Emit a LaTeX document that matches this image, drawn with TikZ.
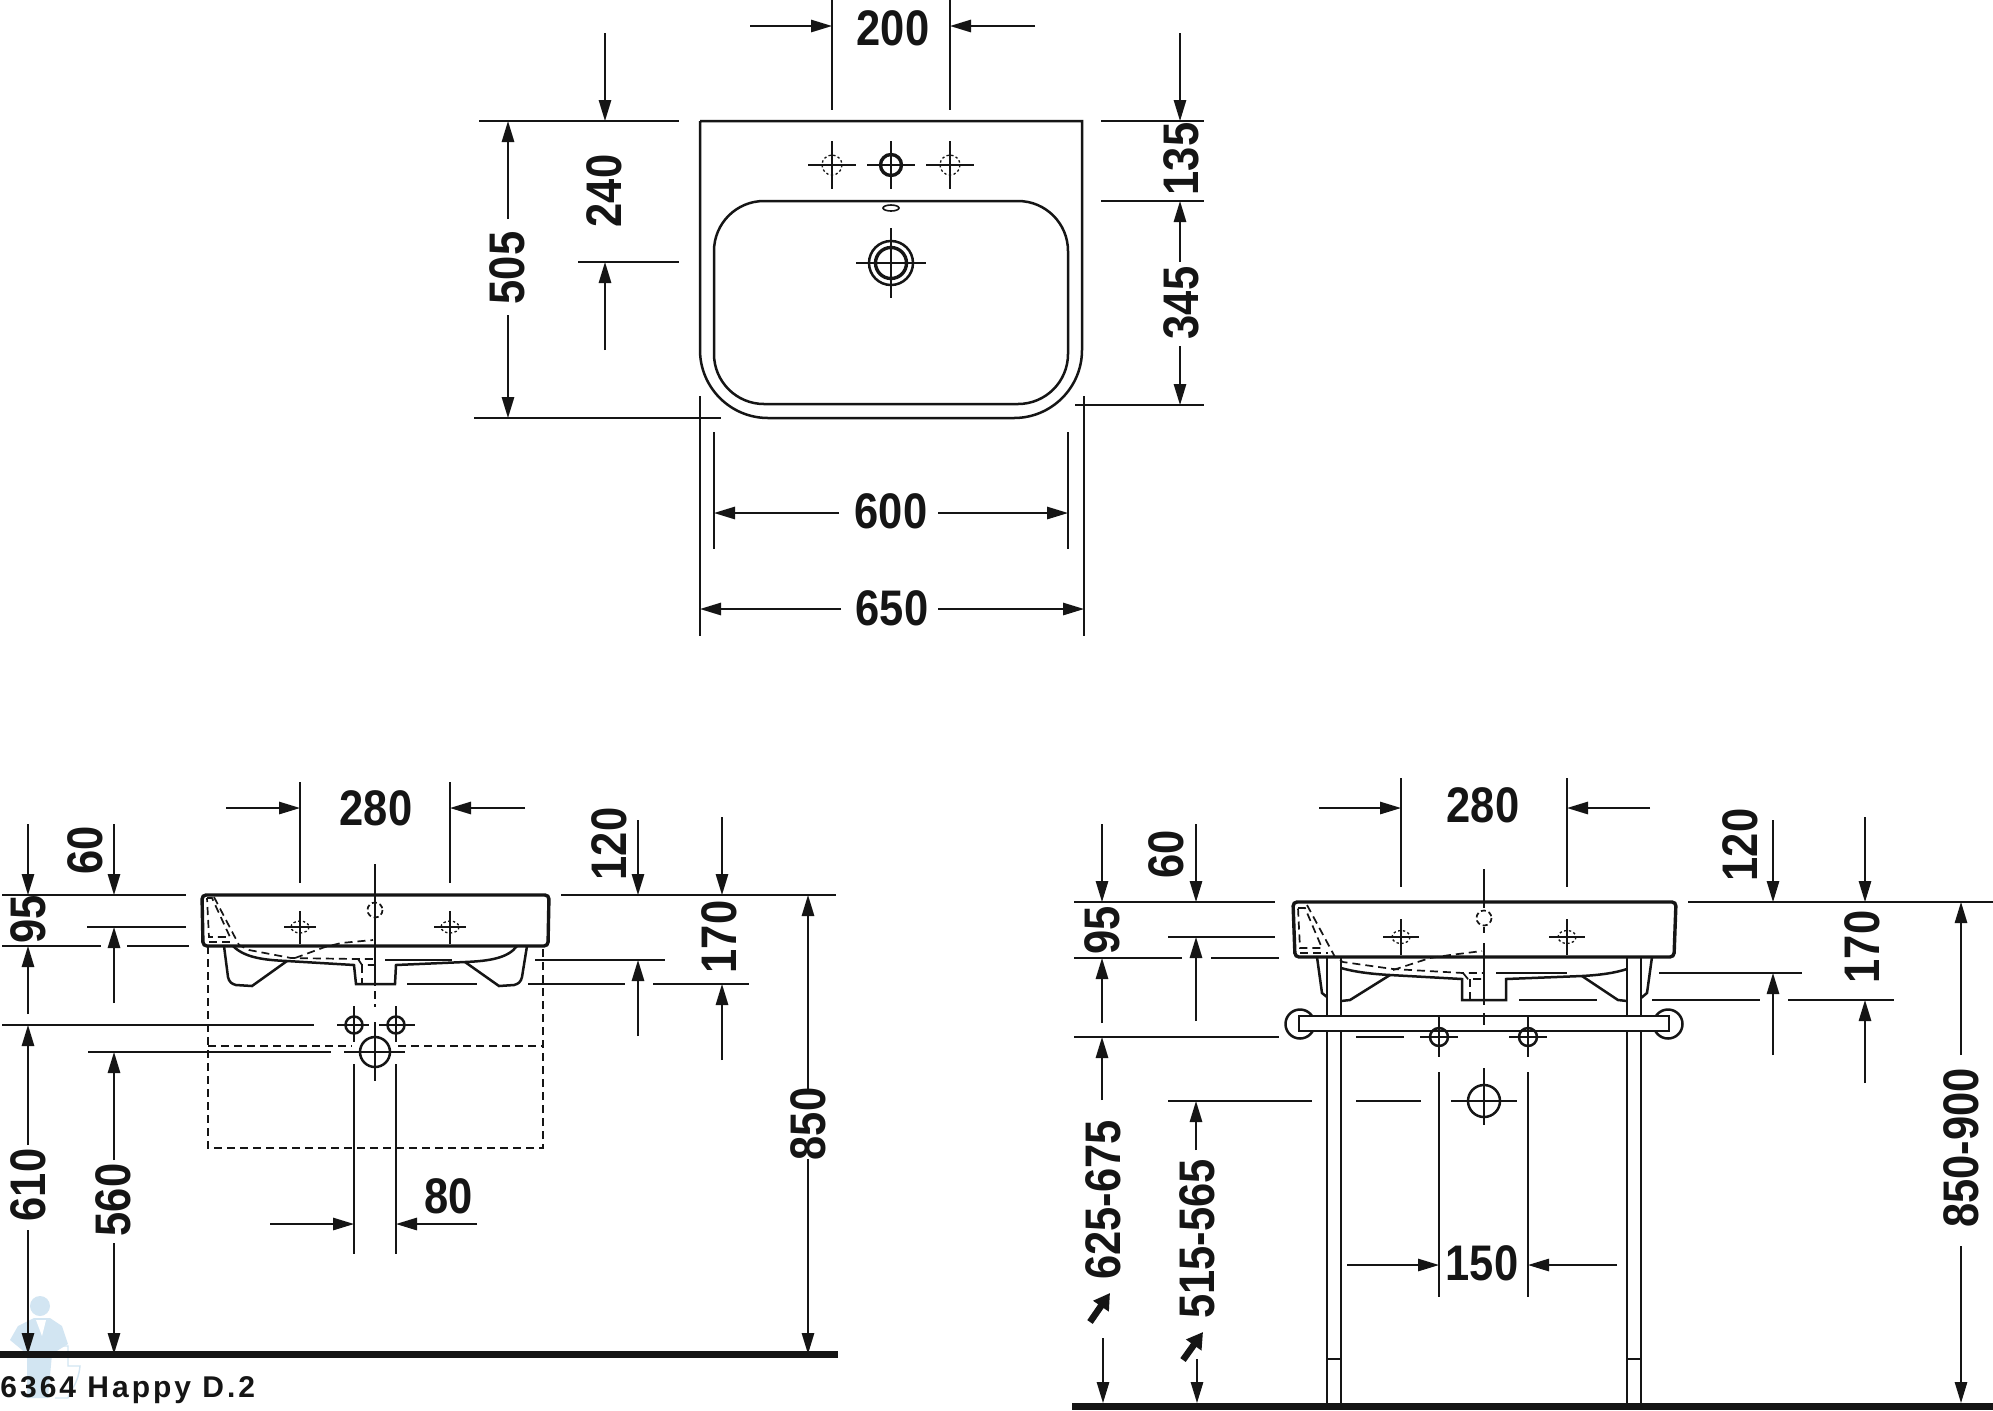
\documentclass[tikz,border=0pt]{standalone}
\usepackage{fontspec}
\setmainfont{Liberation Sans}
\newfontfamily\dimfont[FakeStretch=0.87]{Liberation Sans}
\newfontfamily\titlefont[LetterSpace=10]{Liberation Sans}
\usetikzlibrary{arrows.meta}
\definecolor{inkblack}{HTML}{151515}
\definecolor{logoblue}{HTML}{D2E5F2}
\tikzset{
  >={Triangle[length=10.5pt,width=6.2pt]},
  dimline/.style = {draw=inkblack, line width=0.8pt},
  extline/.style = {draw=inkblack, line width=0.8pt},
  outline/.style = {draw=inkblack, line width=1.25pt},
  heavy/.style = {draw=inkblack, line width=1.7pt},
  hidden/.style = {draw=inkblack, line width=0.85pt, dash pattern=on 4pt off 2.5pt},
  dotline/.style = {draw=inkblack, line width=0.65pt, dash pattern=on 1.2pt off 1.2pt},
  dimtext/.style = {font=\dimfont\fontsize{25pt}{25pt}\selectfont\bfseries, text=inkblack, inner sep=0pt},
  dimup/.style = {dimtext, rotate=90},
  ground/.style = {fill=inkblack}
}
% tap hole shown hidden: x, y, rx, ry
\newcommand{\tapmark}[4]{\draw[dotline] (#1,#2) ellipse ({#3} and {#4});}
\begin{document}
\begin{tikzpicture}[x=0.5pt, y=-0.5pt]
  \useasboundingbox (0,0) rectangle (1993,1410);
  \fill[white] (0,0) rectangle (1993,1410);
  % logo behind the drawing
  \fill[logoblue] (40,1306) circle (10);
  \fill[logoblue] (10,1340) -- (18,1326) -- (34,1318) -- (50,1318) -- (62,1326) -- (68,1344) -- (52,1354) -- (48,1398) -- (27,1398) -- (27,1354) -- cycle;
  \fill[white] (36,1320) -- (46,1320) -- (42,1336) -- cycle;
  \draw[logoblue, line width=0.7pt] (50,1346) -- (68,1346) -- (68,1366) -- (80,1366) .. controls (78,1385) and (70,1390) .. (68,1398) -- (55,1398);

  % top view
  \draw[outline] (700,121) -- (1082,121) [rounded corners=34pt] -- (1082,418) -- (700,418) [sharp corners] -- (700,121);
  \draw[outline, rounded corners=25pt] (714,201) rectangle (1068,404);
  \foreach \cx in {832,950} {
    \draw[dotline] (\cx,165) circle (10);
    \draw[dimline] (\cx-24,165) -- (\cx+24,165);
    \draw[dimline] (\cx,141) -- (\cx,189);
  }
  \draw[heavy] (891,165) circle (10.5);
  \draw[dimline] (867,165) -- (915,165);
  \draw[dimline] (891,141) -- (891,189);
  \draw[dimline] (891,208) ellipse (8 and 3);
  \draw[outline] (891,263) circle (22);
  \draw[heavy] (891,263) circle (15.5);
  \draw[dimline] (856,263) -- (926,263);
  \draw[dimline] (891,228) -- (891,298);

  % top view dimensions
  \draw[extline] (832,0) -- (832,110);
  \draw[extline] (950,0) -- (950,110);
  \draw[dimline, ->] (750,26) -- (832,26);
  \draw[dimline, ->] (1035,26) -- (950,26);
  \node[dimtext] (topA) at (893,28) {200};
  \draw[extline] (479,121) -- (679,121);
  \draw[extline] (578,262) -- (679,262);
  \draw[extline] (474,418) -- (721,418);
  \draw[dimline, ->] (605,33) -- (605,121);
  \draw[dimline, ->] (605,350) -- (605,262);
  \node[dimup] (topB) at (604,191) {240};
  \draw[dimline, ->] (508,219) -- (508,121);
  \draw[dimline, ->] (508,315) -- (508,418);
  \node[dimup] (topC) at (507,268) {505};
  \draw[extline] (1101,121) -- (1204,121);
  \draw[extline] (1101,201) -- (1204,201);
  \draw[extline] (1075,405) -- (1204,405);
  \draw[dimline, ->] (1180,33) -- (1180,121);
  \draw[dimline, ->] (1180,262) -- (1180,201);
  \draw[dimline, ->] (1180,346) -- (1180,405);
  \node[dimup] (topD) at (1181,159) {135};
  \node[dimup] (topE) at (1181,303) {345};
  \draw[extline] (714,432) -- (714,549);
  \draw[extline] (1068,432) -- (1068,549);
  \draw[dimline, ->] (839,513) -- (714,513);
  \draw[dimline, ->] (938,513) -- (1068,513);
  \node[dimtext] (topF) at (891,511) {600};
  \draw[extline] (700,396) -- (700,636);
  \draw[extline] (1084,396) -- (1084,636);
  \draw[dimline, ->] (841,609) -- (700,609);
  \draw[dimline, ->] (938,609) -- (1084,609);
  \node[dimtext] (topG) at (892,608) {650};

  % front view, left
  \draw[heavy, rounded corners=2pt] (203,946) -- (202,895) -- (549,895) -- (548,946) -- cycle;
  \draw[outline] (233,946) .. controls (245,958) and (265,960) .. (287,961) -- (354,965) -- (356,984) -- (395,984) -- (396,965) -- (465,962) .. controls (490,961) and (508,958) .. (517,946);
  \draw[outline] (224,946) -- (228,977) .. controls (229,982) and (232,984) .. (236,985) -- (252,986) -- (287,961);
  \draw[outline] (527,946) -- (522,977) .. controls (521,982) and (518,984) .. (514,985) -- (499,986) -- (465,962);
  \draw[hidden] (208,946) -- (208,1148) -- (543,1148) -- (543,946);
  \draw[hidden] (208,1046) -- (352,1046);
  \draw[hidden] (398,1046) -- (543,1046);
  \draw[hidden] (207,898) -- (212,898) -- (230,937) -- (209,937) -- cycle;
  \draw[hidden] (214,897) -- (239,945) -- (249,950) -- (291,958) -- (356,959) -- (375,959);
  \draw[hidden] (209,942) -- (233,942);
  \draw[hidden] (295,958) -- (325,947) -- (341,943) -- (373,940);
  \draw[hidden] (358,959) -- (362,965) -- (375,965);
  \draw[hidden] (362,965) -- (362,984);
  \draw[dimline] (375,864) -- (375,978);
  \draw[hidden] (375,978) -- (375,1007);
  \foreach \cx in {300,450} {
    \tapmark{\cx}{927}{9}{6}
    \draw[dimline] (\cx-16,927) -- (\cx+16,927);
    \draw[dimline] (\cx,911) -- (\cx,944);
  }
  \draw[hidden, dash pattern=on 2.5pt off 1.5pt] (375,910) circle (7.5);
  \foreach \cx/\lft/\rgt in {354/337/369,396/379/415} {
    \draw[outline] (\cx,1025) circle (8.5);
    \draw[dimline] (\lft,1025) -- (\rgt,1025);
    \draw[dimline] (\cx,1006) -- (\cx,1042);
    \draw[extline] (\cx,1064) -- (\cx,1254);
  }
  \draw[outline] (375,1052) circle (15);
  \draw[dimline] (344,1052) -- (405,1052);
  \draw[dimline] (375,1022) -- (375,1081);

  % front view, left, dimensions
  \fill[ground] (0,1351) rectangle (838,1357.5);
  \draw[extline] (2,895) -- (186,895);
  \draw[extline] (561,895) -- (836,895);
  \draw[extline] (87,927) -- (186,927);
  \draw[extline] (2,946) -- (101,946);
  \draw[extline] (127,946) -- (189,946);
  \draw[extline] (2,1025) -- (314,1025);
  \draw[extline] (88,1052) -- (331,1052);
  \draw[extline] (535,960) -- (665,960);
  \draw[extline] (385,960) -- (452,960);
  \draw[extline] (528,984) -- (625,984);
  \draw[extline] (653,984) -- (749,984);
  \draw[extline] (407,984) -- (477,984);
  \draw[extline] (300,782) -- (300,883);
  \draw[extline] (450,782) -- (450,883);
  \draw[dimline, ->] (226,808) -- (300,808);
  \draw[dimline, ->] (525,808) -- (450,808);
  \node[dimtext] (frontA) at (376,808) {280};
  \draw[dimline, ->] (28,824) -- (28,895);
  \draw[dimline, ->] (28,1014) -- (28,946);
  \draw[dimline, ->] (28,1145) -- (28,1025);
  \draw[dimline, ->] (28,1230) -- (28,1354);
  \node[dimup] (frontB) at (28,919) {95};
  \node[dimup] (frontC) at (28,1185) {610};
  \draw[dimline, ->] (114,824) -- (114,895);
  \draw[dimline, ->] (114,1003) -- (114,927);
  \draw[dimline, ->] (114,1160) -- (114,1052);
  \draw[dimline, ->] (114,1243) -- (114,1354);
  \node[dimup] (frontD) at (85,850) {60};
  \node[dimup] (frontE) at (113,1200) {560};
  \draw[dimline, ->] (638,820) -- (638,895);
  \draw[dimline, ->] (638,1036) -- (638,960);
  \node[dimup] (frontF) at (609,844) {120};
  \draw[dimline, ->] (722,817) -- (722,895);
  \draw[dimline, ->] (722,1060) -- (722,984);
  \node[dimup] (frontG) at (719,937) {170};
  \draw[dimline, ->] (808,1090) -- (808,895);
  \draw[dimline, ->] (808,1159) -- (808,1354);
  \node[dimup] (frontH) at (808,1124) {850};
  \draw[dimline, ->] (270,1224) -- (354,1224);
  \draw[dimline, ->] (477,1224) -- (396,1224);
  \node[dimtext] (frontI) at (449,1196) {80};
  \node[anchor=base west, inner sep=0pt, text=inkblack] (titleA) at (0,1397) {\titlefont\fontsize{15pt}{15pt}\selectfont\bfseries 6364 Happy D.2};

  % front view, right, with frame
  \foreach \cx in {1327,1341,1627,1641} {
    \draw[outline] (\cx,957) -- (\cx,1403);
  }
  \draw[outline] (1327,1359) -- (1341,1359);
  \draw[outline] (1627,1359) -- (1641,1359);
  \draw[outline] (1300,1024) circle (14.5);
  \draw[outline] (1668,1024) circle (14.5);
  \draw[outline, fill=white] (1299,1016) rectangle (1669,1031);
  \draw[heavy, rounded corners=2pt] (1295,957) -- (1293,902) -- (1676,902) -- (1674,957) -- cycle;
  \draw[outline] (1341,968) .. controls (1355,972) and (1372,974) .. (1390,975) -- (1462,979) -- (1462,1000) -- (1506,1000) -- (1506,979) -- (1582,976) .. controls (1600,975) and (1615,973) .. (1627,969);
  \draw[outline] (1390,975) -- (1350,1000) -- (1341,1001);
  \draw[outline] (1582,976) -- (1618,1000) -- (1627,1001);
  \draw[outline] (1317,957) -- (1322,993) -- (1327,997);
  \draw[outline] (1652,957) -- (1647,993) -- (1641,998);
  \draw[hidden] (1298,908) -- (1305,908) -- (1322,948) -- (1300,948) -- cycle;
  \draw[hidden] (1307,905) -- (1335,957) -- (1343,962) -- (1393,969) -- (1463,973) -- (1483,973);
  \draw[hidden] (1300,953) -- (1328,953);
  \draw[hidden] (1393,970) -- (1430,958) -- (1450,955) -- (1482,951);
  \draw[hidden] (1463,973) -- (1468,979) -- (1483,979);
  \draw[hidden] (1470,979) -- (1470,999);
  \draw[dimline] (1484,869) -- (1484,908);
  \draw[dimline] (1484,927) -- (1484,933);
  \draw[dimline] (1484,943) -- (1484,1005);
  \draw[dimline] (1484,1013) -- (1484,1025);
  \draw[hidden, dash pattern=on 2.5pt off 1.5pt] (1484,918) circle (7.5);
  \foreach \cx in {1401,1567} {
    \tapmark{\cx}{937}{9}{6.5}
    \draw[dimline] (\cx-18,937) -- (\cx+18,937);
    \draw[dimline] (\cx,919) -- (\cx,955);
  }
  \foreach \cx in {1439,1528} {
    \draw[outline] (\cx,1037) circle (9);
    \draw[dimline] (\cx-19,1037) -- (\cx+19,1037);
    \draw[dimline] (\cx,1016) -- (\cx,1057);
    \draw[extline] (\cx,1072) -- (\cx,1297);
  }
  \draw[outline] (1484,1101) circle (16);
  \draw[dimline] (1451,1101) -- (1517,1101);
  \draw[dimline] (1484,1068) -- (1484,1125);

  % front view, right, dimensions
  \fill[ground] (1072,1403) rectangle (1993,1410);
  \draw[extline] (1074,902) -- (1275,902);
  \draw[extline] (1688,902) -- (1993,902);
  \draw[extline] (1168,937) -- (1275,937);
  \draw[extline] (1074,958) -- (1182,958);
  \draw[extline] (1211,958) -- (1279,958);
  \draw[extline] (1074,1037) -- (1279,1037);
  \draw[extline] (1356,1037) -- (1404,1037);
  \draw[extline] (1168,1101) -- (1312,1101);
  \draw[extline] (1356,1101) -- (1421,1101);
  \draw[extline] (1659,973) -- (1802,973);
  \draw[extline] (1652,1000) -- (1760,1000);
  \draw[extline] (1788,1000) -- (1894,1000);
  \draw[extline] (1496,973) -- (1567,973);
  \draw[extline] (1519,1000) -- (1597,1000);
  \draw[extline] (1401,778) -- (1401,887);
  \draw[extline] (1567,778) -- (1567,887);
  \draw[dimline, ->] (1319,808) -- (1401,808);
  \draw[dimline, ->] (1650,808) -- (1567,808);
  \node[dimtext] (sideA) at (1483,805) {280};
  \draw[dimline, ->] (1102,824) -- (1102,902);
  \draw[dimline, ->] (1102,1023) -- (1102,958);
  \draw[dimline, ->] (1102,1100) -- (1102,1037);
  \draw[dimline, ->] (1103,1338) -- (1103,1403);
  \node[dimup] (sideB) at (1102,930) {95};
  \node[dimup] (sideC) at (1103,1200) {625-675};
  \draw[dimline, ->] (1196,824) -- (1196,902);
  \draw[dimline, ->] (1196,1021) -- (1196,937);
  \draw[dimline, ->] (1196,1150) -- (1196,1101);
  \draw[dimline, ->] (1197,1359) -- (1197,1403);
  \node[dimup] (sideD) at (1166,854) {60};
  \node[dimup] (sideE) at (1197,1239) {515-565};
  \draw[inkblack, line width=3.3pt, -{Triangle[length=8pt,width=9pt]}] (1090,1322) -- (1110,1293);
  \draw[inkblack, line width=3.3pt, -{Triangle[length=8pt,width=9pt]}] (1183,1360) -- (1203,1332);
  \draw[dimline, ->] (1773,820) -- (1773,902);
  \draw[dimline, ->] (1773,1055) -- (1773,973);
  \node[dimup] (sideF) at (1740,845) {120};
  \draw[dimline, ->] (1865,817) -- (1865,902);
  \draw[dimline, ->] (1865,1083) -- (1865,1000);
  \node[dimup] (sideG) at (1862,947) {170};
  \draw[dimline, ->] (1961,1055) -- (1961,902);
  \draw[dimline, ->] (1961,1246) -- (1961,1403);
  \node[dimup] (sideH) at (1961,1148) {850-900};
  \draw[dimline, ->] (1347,1265) -- (1439,1265);
  \draw[dimline, ->] (1617,1265) -- (1528,1265);
  \node[dimtext] (sideI) at (1482,1263) {150};
\end{tikzpicture}
\end{document}
